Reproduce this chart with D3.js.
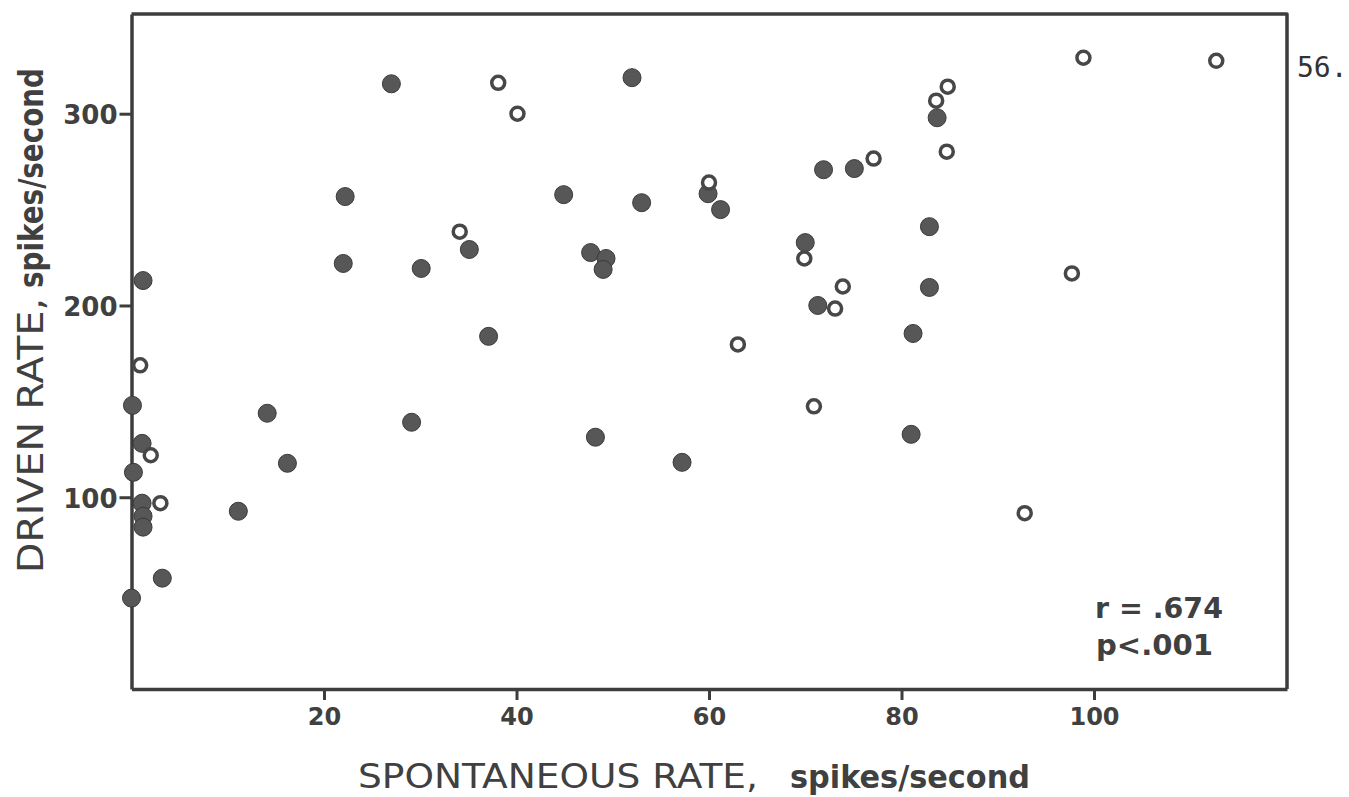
<!DOCTYPE html>
<html>
<head>
<meta charset="utf-8">
<script src="https://cdn.jsdelivr.net/npm/d3@7"></script>
<style>
  html, body { margin: 0; padding: 0; background: #fff; }
  svg { display: block; }
</style>
</head>
<body>
<div id="chart"></div>
<script>
// data
var xTicks = [20, 40, 60, 80, 100];
var yTicks = [100, 200, 300];

// filled dots
var spontFilled = [27.0, 52.0, 22.2, 44.9, 53.0, 59.9, 61.2, 71.9, 75.1, 83.7,
    35.1, 47.7, 49.3, 49.0, 22.0, 30.1, 1.2, 70.0, 82.9, 82.9,
    71.3, 37.1, 81.2, 0.1, 14.1, 29.1, 81.0, 48.2, 57.2, 16.2,
    1.1, 0.2, 1.1, 1.2, 1.2, 11.1, 3.2, 0.0];
var drivenFilled = [315.6, 318.8, 256.8, 257.8, 253.6, 258.3, 250.0, 270.8, 271.4, 297.9,
    229.2, 227.6, 224.5, 218.8, 221.9, 219.3, 213.0, 232.8, 241.1, 209.4,
    200.0, 183.9, 185.4, 147.9, 143.8, 139.1, 132.8, 131.3, 118.2, 117.7,
    128.1, 113.0, 96.9, 90.1, 84.4, 92.7, 57.8, 47.4];

// open circles
var spontOpen = [38.1, 40.1, 98.9, 112.7, 84.8, 83.6, 77.1, 84.7, 60.0, 34.1,
    69.9, 73.9, 73.1, 97.7, 63.0, 0.9, 70.9, 2.0, 3.0, 92.8];
var drivenOpen = [316.1, 300.0, 329.2, 327.6, 314.1, 306.8, 276.6, 280.2, 264.1, 238.5,
    224.5, 209.9, 198.4, 216.7, 179.7, 168.8, 147.4, 121.9, 96.9, 91.7];

var width = 1349, height = 797;
var plotLeft = 131.5, plotRight = 1287, plotTop = 14, plotBottom = 689;
var ink = '#3d3d3d';

var svg = d3.select('#chart').append('svg')
    .attr('width', width).attr('height', height);

var x = d3.scaleLinear().domain([0, 120.05]).range([plotLeft, plotRight]);
var y = d3.scaleLinear().domain([0, 352]).range([plotBottom, plotTop]);

// axes
var xAxis = svg.append('g')
    .attr('transform', 'translate(0,' + plotBottom + ')')
    .call(d3.axisBottom(x).tickValues(xTicks).tickSize(11).tickSizeOuter(0).tickPadding(8));
var yAxis = svg.append('g')
    .attr('transform', 'translate(' + plotLeft + ',0)')
    .call(d3.axisLeft(y).tickValues(yTicks).tickSize(12).tickSizeOuter(0).tickPadding(2));

[xAxis, yAxis].forEach(function(g) {
    g.attr('font-family', 'DejaVu Sans');
    g.select('.domain').attr('stroke', ink).attr('stroke-width', 3.5);
    g.selectAll('.tick line').attr('stroke', ink).attr('stroke-width', 3);
    g.selectAll('.tick text')
        .attr('fill', '#404040')
        .attr('font-weight', 'bold');
});
xAxis.attr('font-size', 24);
yAxis.attr('font-size', 26);
yAxis.selectAll('.tick text').attr('dy', '0.38em');

// top and right frame
svg.append('path')
    .attr('d', 'M' + x.range()[0] + ',' + y.range()[1] + 'H' + x.range()[1] + 'V' + y.range()[0])
    .attr('fill', 'none').attr('stroke', ink).attr('stroke-width', 3.5)
    .attr('stroke-linejoin', 'round');

// dots
var filled = spontFilled.map(function(d, i) { return [d, drivenFilled[i]]; });
var open = spontOpen.map(function(d, i) { return [d, drivenOpen[i]]; });

svg.append('g').selectAll('circle')
    .data(filled).enter().append('circle')
    .attr('cx', function(d) { return x(d[0]); })
    .attr('cy', function(d) { return y(d[1]); })
    .attr('r', 9)
    .attr('fill', '#575757')
    .attr('stroke', '#3a3a3a').attr('stroke-width', 1);

svg.append('g').selectAll('circle')
    .data(open).enter().append('circle')
    .attr('cx', function(d) { return x(d[0]); })
    .attr('cy', function(d) { return y(d[1]); })
    .attr('r', 6.5)
    .attr('fill', '#fff')
    .attr('stroke', '#474747').attr('stroke-width', 3.5);

// axis titles
svg.append('text')
    .attr('x', 358).attr('y', 788)
    .attr('fill', '#404040')
    .attr('font-family', 'DejaVu Sans').attr('font-size', 34)
    .attr('textLength', 400).attr('lengthAdjust', 'spacingAndGlyphs')
    .text('SPONTANEOUS RATE,');
svg.append('text')
    .attr('x', 790).attr('y', 788)
    .attr('fill', '#404040')
    .attr('font-family', 'DejaVu Sans').attr('font-size', 32).attr('font-weight', 'bold')
    .attr('textLength', 240).attr('lengthAdjust', 'spacingAndGlyphs')
    .text('spikes/second');

svg.append('text')
    .attr('transform', 'translate(43,573) rotate(-90)')
    .attr('fill', '#404040')
    .attr('font-family', 'DejaVu Sans').attr('font-size', 36)
    .attr('textLength', 275).attr('lengthAdjust', 'spacingAndGlyphs')
    .text('DRIVEN RATE,');
svg.append('text')
    .attr('transform', 'translate(43,288) rotate(-90)')
    .attr('fill', '#404040')
    .attr('font-family', 'DejaVu Sans').attr('font-size', 34).attr('font-weight', 'bold')
    .attr('textLength', 220).attr('lengthAdjust', 'spacingAndGlyphs')
    .text('spikes/second');

// statistics
svg.append('text')
    .attr('x', 1095).attr('y', 618)
    .attr('fill', '#404040')
    .attr('font-family', 'DejaVu Sans').attr('font-size', 29).attr('font-weight', 'bold')
    .attr('textLength', 128).attr('lengthAdjust', 'spacingAndGlyphs')
    .text('r = .674');
svg.append('text')
    .attr('x', 1096).attr('y', 655)
    .attr('fill', '#404040')
    .attr('font-family', 'DejaVu Sans').attr('font-size', 29).attr('font-weight', 'bold')
    .attr('textLength', 117).attr('lengthAdjust', 'spacingAndGlyphs')
    .text('p<.001');

// page number
svg.append('text')
    .attr('x', 1297).attr('y', 77)
    .attr('fill', '#333')
    .attr('font-family', 'DejaVu Sans Mono').attr('font-size', 28)
    .text('56.');
</script>
</body>
</html>
